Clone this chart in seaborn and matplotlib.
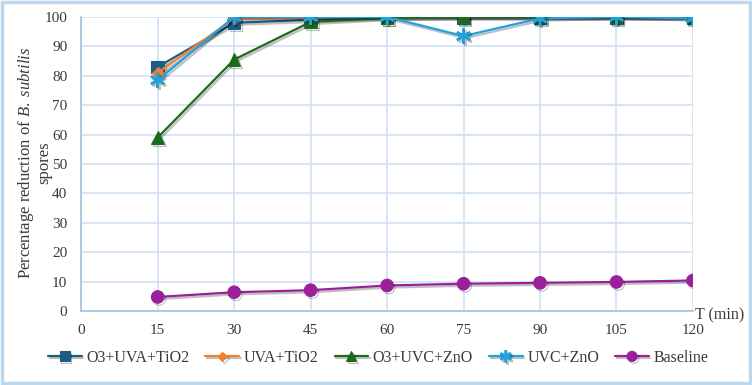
import pandas as pd
import seaborn as sns
import matplotlib.pyplot as plt
import matplotlib.patheffects as pe
from matplotlib.patches import Rectangle

times = [15, 30, 45, 60, 75, 90, 105, 120]
o3_uva_tio2 = [83.0, 98.0, 99.0, 99.8, 99.8, 99.8, 99.8, 99.7]
uva_tio2 = [81.0, 99.5, 99.8, 100.0, 100.0, 100.0, 100.0, 100.0]
o3_uvc_zno = [59.0, 85.5, 98.3, 99.6, 100.0, 100.0, 100.0, 100.0]
uvc_zno = [78.5, 100.0, 100.0, 100.0, 93.5, 99.5, 100.0, 99.5]
baseline = [4.8, 6.4, 7.1, 8.7, 9.3, 9.6, 9.9, 10.4]

series = ['O3+UVA+TiO2', 'UVA+TiO2', 'O3+UVC+ZnO', 'UVC+ZnO', 'Baseline']
colors = ['#1B5E85', '#F0802E', '#1C6B1C', '#1FA2DE', '#9B1F9B']
markers = ['s', 'D', '^', (6, 2, 0), 'o']
sizes = [9, 6, 9, 11, 9]

rows = []
for name, vals in zip(series, [o3_uva_tio2, uva_tio2, o3_uvc_zno, uvc_zno, baseline]):
    for t, v in zip(times, vals):
        rows.append({'T': t, 'value': v, 'series': name})
df = pd.DataFrame(rows)

sns.set_theme(style='white')
plt.rcParams['font.family'] = ['Liberation Serif', 'DejaVu Serif']
plt.rcParams['mathtext.fontset'] = 'custom'
plt.rcParams['mathtext.rm'] = 'Liberation Serif'
plt.rcParams['mathtext.it'] = 'Liberation Serif:italic'

fig = plt.figure(figsize=(7.52, 3.85), dpi=100)
ax = fig.add_axes([0.108, 0.192, 0.8135, 0.764])

shadow = [pe.SimpleLineShadow(offset=(1.2, -1.5), alpha=0.25, shadow_color='black'), pe.Normal()]
for name, c, m, s in zip(series, colors, markers, sizes):
    sub = df[df['series'] == name]
    sns.lineplot(data=sub, x='T', y='value', ax=ax, color=c, marker=m,
                 markersize=s, markeredgecolor=c,
                 markeredgewidth=1.8 if name == 'UVC+ZnO' else 0.8,
                 linewidth=1.6, label=name, path_effects=shadow)

ax.set_xlim(0, 120)
ax.set_ylim(0, 100)
ax.set_xticks(range(0, 121, 15))
ax.set_yticks(range(0, 101, 10))
ax.grid(True, color='#CFE0F3', linewidth=1.2)
ax.set_axisbelow(True)
for sp in ['top', 'right']:
    ax.spines[sp].set_visible(False)
for sp in ['left', 'bottom']:
    ax.spines[sp].set_color('#9DC3E6')
    ax.spines[sp].set_linewidth(1.2)
ax.tick_params(labelsize=11, length=0)
ax.tick_params(axis='y', pad=10)
ax.tick_params(axis='x', pad=9)
for lab in ax.get_xticklabels() + ax.get_yticklabels():
    lab.set_color('#3A3A3A')

ax.set_xlabel('')
ax.set_ylabel('')
fig.text(34 / 752, 1 - 163 / 385, 'Percentage reduction of $\\it{B.\\ subtilis}$\nspores',
         rotation=90, ha='center', va='center', multialignment='center',
         fontsize=12, color='#3A3A3A', linespacing=1.05)
ax.text(120.4, 1.2, 'T (min)', fontsize=11.5, color='#3A3A3A', ha='left', va='top')

ax.legend(loc='center', bbox_to_anchor=(0.503, 1 - 358 / 385), bbox_transform=fig.transFigure,
          ncol=5, frameon=False, fontsize=11.5, handlelength=2.1, handletextpad=0.3,
          columnspacing=1.0, labelcolor='#3A3A3A', borderaxespad=0, markerscale=0.8)

fig.patches.append(Rectangle((0.003, 0.004), 0.994, 0.992, transform=fig.transFigure,
                             fill=False, edgecolor='#BDD7EE', linewidth=2.5))

fig.savefig('out.png', dpi=100)
